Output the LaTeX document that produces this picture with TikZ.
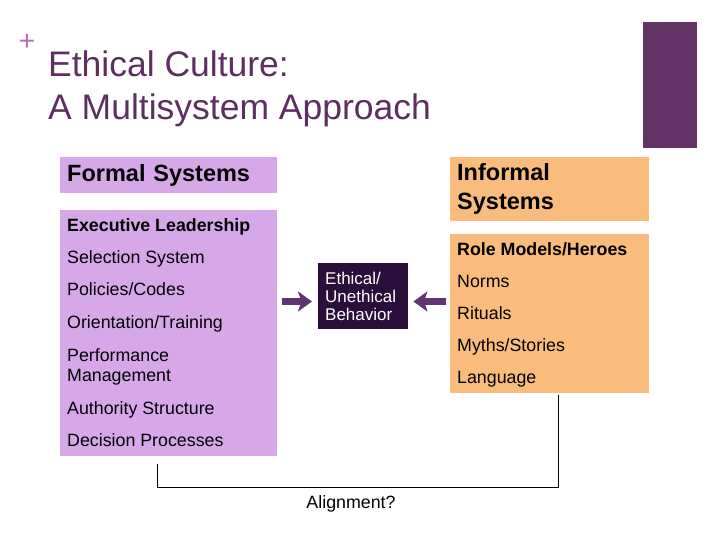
\documentclass[tikz,border=0pt]{standalone}
\usepackage{fontspec}
\setmainfont{Liberation Sans}
\usetikzlibrary{positioning, arrows.meta}

\definecolor{formalfill}{RGB}{214,168,232}
\definecolor{informalfill}{RGB}{249,188,125}
\definecolor{behavfill}{RGB}{44,14,58}
\definecolor{plumbar}{RGB}{99,51,102}
\definecolor{titleplum}{RGB}{92,48,94}
\definecolor{plusplum}{RGB}{178,112,184}
\definecolor{arrowplum}{RGB}{96,52,112}

\newcommand{\fsz}[2]{\fontsize{#1}{#2}\selectfont}

\begin{document}
\begin{tikzpicture}[
        x=1pt, y=-1pt,
        headbox/.style={
            anchor=north west,
            inner xsep=7pt,
            inner ysep=0pt,
            align=left,
            font=\fsz{23.5}{29}\bfseries
        },
        listbox/.style={
            anchor=north west,
            minimum height=#1,
            inner sep=0pt
        },
        item/.style={
            anchor=base west,
            inner sep=0pt,
            font=\fsz{17.8}{20.7}
        },
        keyitem/.style={
            item,
            font=\fsz{17.8}{20.7}\bfseries
        },
        bigarr/.style={
            -{Stealth[length=14pt, width=20pt, inset=3.5pt]},
            line width=7pt,
            draw=arrowplum
        },
        bracket/.style={draw=black, line width=0.8pt}
    ]

    \useasboundingbox (0,0) rectangle (720,540);

    % title
    \node[anchor=center, inner sep=0pt, text=plusplum, font=\fsz{28}{30}] (plus) at (27,42) {+};
    \node[anchor=north west, inner sep=0pt, align=left, text=titleplum,
          font=\fsz{35.5}{43}] (title) at (48,51) {Ethical Culture:\\A Multisystem Approach};
    \fill[plumbar] (643,22) rectangle (697,148);

    % formal side
    \node[headbox, fill=formalfill, text width=203pt, minimum height=36pt] (formalhd) at (60,157) {Formal Systems};
    \node[listbox=246pt, fill=formalfill, minimum width=217pt] (formallist) at (60,210) {};

    \node[keyitem] (execlead)    at (67,231) {Executive Leadership};
    \node[item]    (selection)   at (67,263) {Selection System};
    \node[item]    (policies)    at (67,295.5) {Policies/Codes};
    \node[item]    (orientation) at (67,328) {Orientation/Training};
    \node[item, anchor=north west, align=left] (perfmgmt) at (67,348) {Performance\\Management};
    \node[item]    (authority)   at (67,414.5) {Authority Structure};
    \node[item]    (decision)    at (67,446.5) {Decision Processes};

    % informal side
    \node[headbox, fill=informalfill, text width=185pt, minimum height=64pt] (informalhd) at (450,157) {Informal\\Systems};
    \node[listbox=159pt, fill=informalfill, minimum width=199pt] (informallist) at (450,234) {};

    \node[keyitem] (rolemodels) at (457,255) {Role Models/Heroes};
    \node[item]    (norms)      at (457,287.5) {Norms};
    \node[item]    (rituals)    at (457,319.5) {Rituals};
    \node[item]    (myths)      at (457,351.5) {Myths/Stories};
    \node[item]    (language)   at (457,383.5) {Language};

    % behaviour in the middle
    \node[anchor=north west, fill=behavfill, text=white, text width=76pt,
          inner xsep=7pt, inner ysep=0pt, minimum height=66pt, align=left,
          font=\fsz{17}{18}] (behav) at (318,263) {Ethical/\\Unethical\\Behavior};

    \coordinate (arrrow) at (0,301.5);
    \draw[bigarr, shorten <=4.5pt, shorten >=6pt] (formallist.east |- arrrow) -- (behav.west |- arrrow);
    \draw[bigarr, shorten <=4.5pt, shorten >=5pt] (informallist.west |- arrrow) -- (behav.east |- arrrow);

    % alignment bracket
    \coordinate (brl) at (157,464);
    \coordinate (brr) at (558,395);
    \draw[bracket] (brl) -- ++(0,23) -| (brr);
    \node[anchor=base, inner sep=0pt, font=\fsz{17.8}{20}] (align) at (351,508) {Alignment?};

    \end{tikzpicture}
\end{document}
